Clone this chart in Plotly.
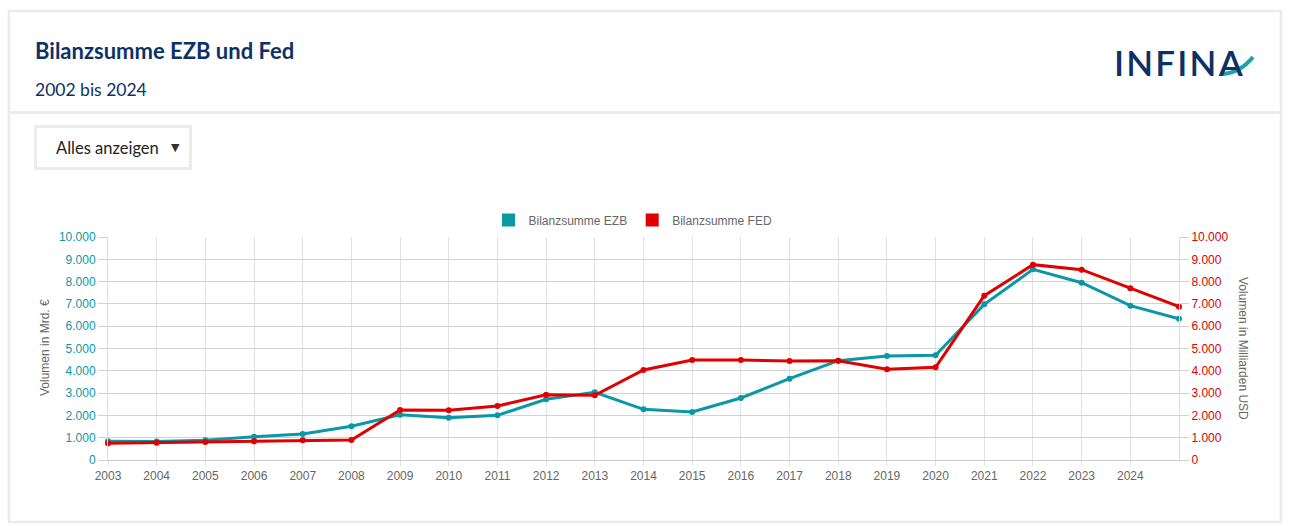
import plotly.graph_objects as go

# ---------------- data ----------------
years = list(range(2003, 2026))
tick_years = list(range(2003, 2025))
tick_labels = [str(y) for y in tick_years]
ezb = [838, 830, 883, 1045, 1166, 1511, 2031, 1897, 2004, 2722, 3036, 2273, 2152,
       2780, 3647, 4455, 4664, 4693, 6980, 8550, 7950, 6920, 6336]
fed = [749, 776, 807, 838, 883, 897, 2242, 2228, 2421, 2928, 2901, 4036, 4484,
       4484, 4440, 4455, 4066, 4157, 7370, 8760, 8535, 7700, 6875]
y_ticks = list(range(0, 10001, 1000))

TEAL = "#0a97a6"
RED = "#e00000"
NAVY = "#0d3166"
GRAY_TXT = "#666666"

W, H = 1290, 531
L, T, R, B = 108, 237, 1179, 460
PW, PH = R - L, B - T


def X(px):
    return (px - L) / PW


def Y(py):
    return (B - py) / PH


fig = go.Figure()

fig.add_trace(go.Scatter(x=years, y=fed, yaxis="y2", mode="lines+markers",
                         line=dict(color=RED, width=3), marker=dict(color=RED, size=6),
                         cliponaxis=False, showlegend=False, name="Bilanzsumme FED"))
fig.add_trace(go.Scatter(x=years, y=ezb, mode="lines+markers",
                         line=dict(color=TEAL, width=3), marker=dict(color=TEAL, size=6),
                         cliponaxis=False, showlegend=False, name="Bilanzsumme EZB"))
# legend entries (square swatches)
fig.add_trace(go.Scatter(x=[None], y=[None], mode="markers", name="Bilanzsumme EZB",
                         marker=dict(symbol="square", size=13, color=TEAL), legendrank=1))
fig.add_trace(go.Scatter(x=[None], y=[None], mode="markers", name="Bilanzsumme FED",
                         marker=dict(symbol="square", size=13, color=RED), legendrank=2))

tick_font = dict(family="Liberation Sans, Arial, sans-serif", size=12)

fig.update_layout(
    width=W, height=H,
    margin=dict(l=L, r=W - R, t=T, b=H - B, pad=0),
    paper_bgcolor="white", plot_bgcolor="white",
    separators=",.",
    font=dict(family="Liberation Sans, Arial, sans-serif", size=12, color=GRAY_TXT),
    xaxis=dict(type="linear", range=[2003, 2025], tickvals=tick_years, ticktext=tick_labels,
               showgrid=True, gridcolor="#e2e2e2", gridwidth=1,
               ticks="outside", ticklen=5, tickcolor="#e2e2e2",
               tickfont=dict(tick_font, color=GRAY_TXT),
               showline=True, linecolor="#c8c8c8", zeroline=False, fixedrange=True),
    yaxis=dict(range=[0, 10000], tickvals=y_ticks, tickformat=",d",
               showgrid=True, gridcolor="#d2d2d2", gridwidth=1,
               ticks="outside", ticklen=9, tickcolor="#d2d2d2",
               tickfont=dict(tick_font, color=TEAL),
               showline=True, linecolor="#dedede", zeroline=False, fixedrange=True),
    yaxis2=dict(range=[0, 10000], tickvals=y_ticks, tickformat=",d", overlaying="y",
                side="right", showgrid=False,
                ticks="outside", ticklen=9, tickcolor="#d2d2d2",
                tickfont=dict(tick_font, color=RED),
                showline=True, linecolor="#dedede", zeroline=False, fixedrange=True),
    legend=dict(orientation="h", x=X(633), xanchor="center", y=Y(220), yanchor="middle",
                font=dict(size=12, color=GRAY_TXT), itemwidth=30,
                bgcolor="rgba(0,0,0,0)"),
    showlegend=True,
)

shapes = [
    dict(type="rect", xref="paper", yref="paper", x0=X(9), x1=X(1281), y0=Y(11), y1=Y(522),
         line=dict(color="#ebebeb", width=2.5), layer="below"),
    dict(type="line", xref="paper", yref="paper", x0=X(9), x1=X(1281), y0=Y(112.5), y1=Y(112.5),
         line=dict(color="#ececec", width=3)),
    dict(type="rect", xref="paper", yref="paper", x0=X(35.5), x1=X(190.5), y0=Y(126.5), y1=Y(168.5),
         line=dict(color="#ececec", width=3)),
    dict(type="path", xref="paper", yref="paper",
         path=f"M {X(1222)},{Y(74)} Q {X(1240)},{Y(73)} {X(1253)},{Y(57)}",
         line=dict(color="#1aa3a8", width=4)),
]
fig.update_layout(shapes=shapes)

annotations = [
    dict(text="<b>Bilanzsumme EZB und Fed</b>", x=X(33), y=Y(50), xanchor="left", yanchor="middle",
         font=dict(family="Lato, sans-serif", size=22, color=NAVY)),
    dict(text="2002 bis 2024", x=X(33), y=Y(89), xanchor="left", yanchor="middle",
         font=dict(family="Lato, sans-serif", size=17.5, color=NAVY)),
    dict(text="I\u200aN\u200aF\u200aI\u200aN\u200aA", x=X(1112), y=Y(62), xanchor="left", yanchor="middle",
         font=dict(family="Lato, sans-serif", size=35, color=NAVY, weight=600)),
    dict(text="Alles anzeigen", x=X(54), y=Y(148), xanchor="left", yanchor="middle",
         font=dict(family="Lato, sans-serif", size=16.5, color="#222222")),
    dict(text="▼", x=X(175), y=Y(147), xanchor="center", yanchor="middle",
         font=dict(family="DejaVu Sans, sans-serif", size=11, color="#333333")),
    dict(text="Volumen in Mrd. €", x=X(45), y=Y(348), xanchor="center", yanchor="middle",
         textangle=-90, font=dict(size=12, color=GRAY_TXT)),
    dict(text="Volumen in Milliarden USD", x=X(1243), y=Y(348), xanchor="center", yanchor="middle",
         textangle=90, font=dict(size=12, color=GRAY_TXT)),
]
for a in annotations:
    a.update(xref="paper", yref="paper", showarrow=False)
fig.update_layout(annotations=annotations)

fig.write_html("out.html", config={"displayModeBar": False},
               post_script="document.body.style.margin='0';document.body.style.overflow='hidden';")
